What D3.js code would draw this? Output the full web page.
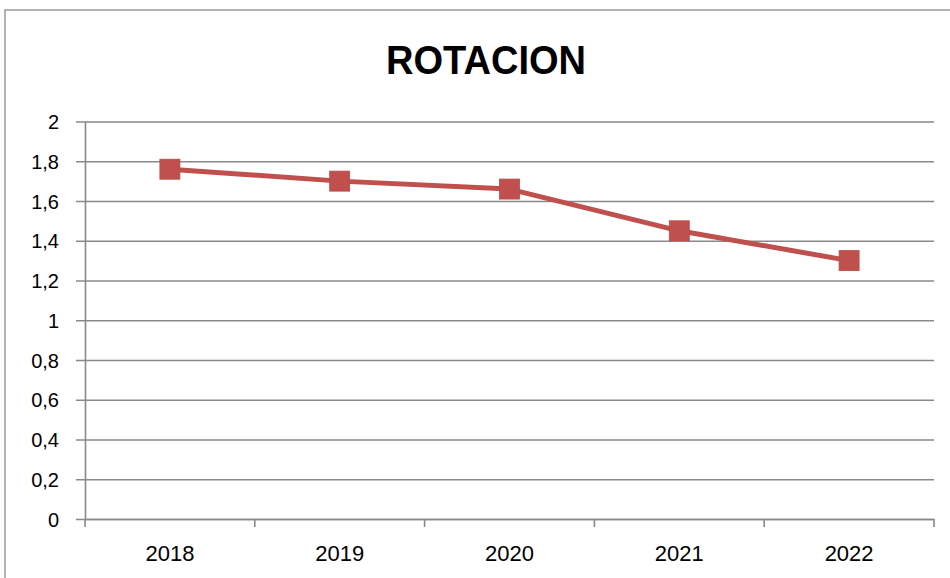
<!DOCTYPE html>
<html>
<head>
<meta charset="utf-8">
<script src="https://cdn.jsdelivr.net/npm/d3@7"></script>
<style>
  html, body { margin: 0; padding: 0; background: #fff; }
  svg { display: block; }
  text { font-family: "Liberation Sans", Arial, sans-serif; fill: #000; }
</style>
</head>
<body>
<svg id="chart" width="950" height="578"></svg>
<script>
// Rotation by year
const years = ["2018", "2019", "2020", "2021", "2022"];
const rotacion = [1.76, 1.70, 1.66, 1.45, 1.30];
const yTicks = [0, 0.2, 0.4, 0.6, 0.8, 1, 1.2, 1.4, 1.6, 1.8, 2];
const title = "ROTACION";

const svg = d3.select("#chart");
const W = 950, H = 578;
const plot = { left: 85, right: 934, top: 121.5, bottom: 519 };
const axisColor = "#898989";
const lineColor = "#C0504D";

// Outer chart frame
svg.append("rect")
  .attr("x", 5).attr("y", 10)
  .attr("width", W).attr("height", H)
  .attr("fill", "#fff")
  .attr("stroke", "#8c8c8c")
  .attr("stroke-width", 1.3);

// Title
svg.append("text")
  .attr("x", 486).attr("y", 74)
  .attr("text-anchor", "middle")
  .attr("font-size", 41)
  .attr("font-weight", "bold")
  .attr("textLength", 200)
  .attr("lengthAdjust", "spacingAndGlyphs")
  .text(title);

const x = d3.scaleBand().domain(years).range([plot.left, plot.right]).paddingInner(0).paddingOuter(0);
const y = d3.scaleLinear().domain([0, 2]).range([plot.bottom, plot.top]);
const fmt = v => String(+v.toFixed(1)).replace(".", ",");

// Y axis with horizontal gridlines
const yAxis = d3.axisLeft(y)
  .tickValues(yTicks)
  .tickFormat(fmt)
  .tickSizeInner(-(plot.right - plot.left))
  .tickSizeOuter(0)
  .tickPadding(0);

const gy = svg.append("g")
  .attr("transform", `translate(${plot.left},0)`)
  .call(yAxis);
gy.select(".domain").attr("stroke", axisColor).attr("stroke-width", 1.6);
gy.selectAll(".tick line")
  .attr("x1", -9)
  .attr("stroke", axisColor)
  .attr("stroke-width", 1.5);
gy.selectAll(".tick text")
  .attr("x", -26)
  .attr("dy", "0.36em")
  .attr("font-size", 20)
  .attr("font-family", "'Liberation Sans', Arial, sans-serif")
  .attr("fill", "#000");

// X axis: category labels, tick marks at band edges
const gx = svg.append("g")
  .attr("transform", `translate(0,${plot.bottom})`)
  .call(d3.axisBottom(x).tickSize(0).tickPadding(0));
gx.select(".domain").attr("stroke", axisColor).attr("stroke-width", 1.6);
gx.selectAll(".tick text")
  .attr("y", 42)
  .attr("dy", 0)
  .attr("font-size", 22)
  .attr("font-family", "'Liberation Sans', Arial, sans-serif")
  .attr("fill", "#000");

const edges = years.map(d => x(d)).concat([x(years[years.length - 1]) + x.bandwidth()]);
gx.selectAll("line.edge")
  .data(edges)
  .join("line")
  .attr("class", "edge")
  .attr("x1", d => d).attr("x2", d => d)
  .attr("y1", 0).attr("y2", 8)
  .attr("stroke", axisColor)
  .attr("stroke-width", 1.6);

// Series line
const cx = d => x(d) + x.bandwidth() / 2;
const line = d3.line()
  .x((d, i) => cx(years[i]))
  .y(d => y(d));

svg.append("path")
  .datum(rotacion)
  .attr("d", line)
  .attr("fill", "none")
  .attr("stroke", lineColor)
  .attr("stroke-width", 5)
  .attr("stroke-linejoin", "round");

// Square markers
const m = 20;
svg.selectAll("rect.marker")
  .data(rotacion)
  .join("rect")
  .attr("class", "marker")
  .attr("x", (d, i) => cx(years[i]) - m / 2)
  .attr("y", d => y(d) - m / 2)
  .attr("width", m).attr("height", m)
  .attr("fill", lineColor)
  .attr("stroke", "#b84a47")
  .attr("stroke-width", 0.8);
</script>
</body>
</html>
